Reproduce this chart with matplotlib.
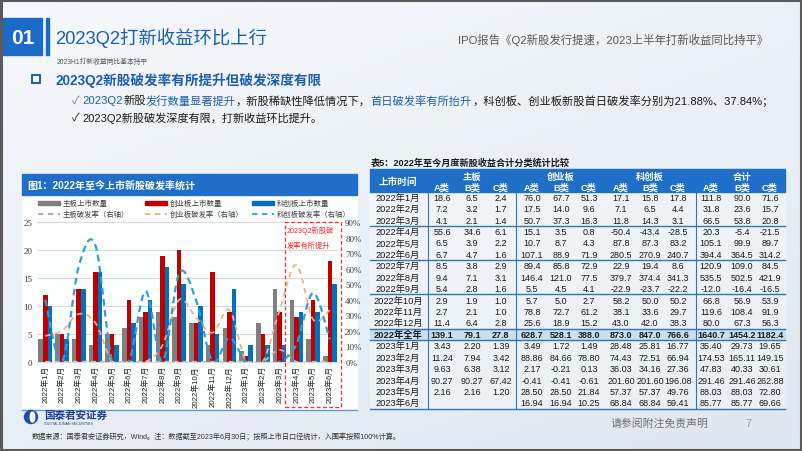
import numpy as np
import matplotlib
matplotlib.use('Agg')
import matplotlib.pyplot as plt
from matplotlib.path import Path
from matplotlib.patches import PathPatch, Rectangle, Ellipse
from matplotlib.ticker import PercentFormatter
from matplotlib.transforms import blended_transform_factory

plt.rcParams['font.family'] = ['Liberation Sans', 'Noto Sans CJK SC', 'DejaVu Sans']
plt.rcParams['axes.unicode_minus'] = False

# ---------------- chart data ----------------
months = ['2022年1月', '2022年2月', '2022年3月', '2022年4月', '2022年5月', '2022年6月',
          '2022年7月', '2022年8月', '2022年9月', '2022年10月', '2022年11月', '2022年12月',
          '2023年1月', '2023年2月', '2023年3月', '2023年4月', '2023年5月', '2023年6月']
main_cnt = [4, 5, 4, 3, 5, 6, 8, 9, 8, 7, 3, 6, 2, 7, 13, 11, 4, 1]
gem_cnt = [12, 5, 13, 16, 5, 11, 9, 19, 20, 7, 16, 9, 1, 5, 9, 8, 11, 18]
star_cnt = [10, 4, 13, 16, 3, 7, 11, 17, 14, 10, 5, 13, 3, 3, 3, 9, 9, 14]
main_rate = [0, 0, 0, 0, 0, 0, 0, 0, 0, 0, 0, 0, 0, 0, 0.0769, 0, 0, 0]
gem_rate = [0.1667, 0.20, 0.3077, 0.25, 0, 0, 0, 0.1053, 0.40, 0.2857, 0.1875, 0.3333,
            0, 0, 0.3333, 0.625, 0.2727, 0.3333]
star_rate = [0.40, 0, 0.6154, 0.75, 0, 0, 0.4545, 0, 0.5714, 0.40, 0, 0.1538,
             0, 0, 0, 0.1111, 0.4444, 0.1429]

# ---------------- table data ----------------
row_labels = ['2022年1月', '2022年2月', '2022年3月', '2022年4月', '2022年5月', '2022年6月',
              '2022年7月', '2022年8月', '2022年9月', '2022年10月', '2022年11月', '2022年12月',
              '2022年全年', '2023年1月', '2023年2月', '2023年3月', '2023年4月', '2023年5月', '2023年6月']
main_abc = [('18.6', '6.5', '2.4'), ('7.2', '3.2', '1.7'), ('4.1', '2.1', '1.4'), ('55.6', '34.6', '6.1'),
            ('6.5', '3.9', '2.2'), ('6.7', '4.7', '1.6'), ('8.5', '3.8', '2.9'), ('9.4', '7.1', '3.1'),
            ('5.4', '2.8', '1.6'), ('2.9', '1.9', '1.0'), ('2.7', '2.1', '1.0'), ('11.4', '6.4', '2.8'),
            ('139.1', '79.1', '27.8'), ('3.43', '2.20', '1.39'), ('11.24', '7.94', '3.42'),
            ('9.63', '6.38', '3.12'), ('90.27', '90.27', '67.42'), ('2.16', '2.16', '1.20'), ('', '', '')]
gem_abc = [('76.0', '67.7', '51.3'), ('17.5', '14.0', '9.6'), ('50.7', '37.3', '16.3'), ('15.1', '3.5', '0.8'),
           ('10.7', '8.7', '4.3'), ('107.1', '88.9', '71.9'), ('89.4', '85.8', '72.9'), ('146.4', '121.0', '77.5'),
           ('5.5', '4.5', '4.1'), ('5.7', '5.0', '2.7'), ('78.8', '72.7', '61.2'), ('25.6', '18.9', '15.2'),
           ('628.7', '528.1', '388.0'), ('3.49', '1.72', '1.49'), ('88.86', '84.66', '78.80'),
           ('2.17', '-0.21', '0.13'), ('-0.41', '-0.41', '-0.61'), ('28.50', '28.50', '21.84'),
           ('16.94', '16.94', '10.25')]
star_abc = [('17.1', '15.8', '17.8'), ('7.1', '6.5', '4.4'), ('11.8', '14.3', '3.1'), ('-50.4', '-43.4', '-28.5'),
            ('87.8', '87.3', '83.2'), ('280.5', '270.9', '240.7'), ('22.9', '19.4', '8.6'),
            ('379.7', '374.4', '341.3'), ('-22.9', '-23.7', '-22.2'), ('58.2', '50.0', '50.2'),
            ('38.1', '33.6', '29.7'), ('43.0', '42.0', '38.3'), ('873.0', '847.0', '766.6'),
            ('28.48', '25.81', '16.77'), ('74.43', '72.51', '66.94'), ('36.03', '34.16', '27.36'),
            ('201.60', '201.60', '196.08'), ('57.37', '57.37', '49.76'), ('68.84', '68.84', '59.41')]
total_abc = [('111.8', '90.0', '71.6'), ('31.8', '23.6', '15.7'), ('66.5', '53.8', '20.8'), ('20.3', '-5.4', '-21.5'),
             ('105.1', '99.9', '89.7'), ('394.4', '364.5', '314.2'), ('120.9', '109.0', '84.5'),
             ('535.5', '502.5', '421.9'), ('-12.0', '-16.4', '-16.5'), ('66.8', '56.9', '53.9'),
             ('119.6', '108.4', '91.9'), ('80.0', '67.3', '56.3'), ('1640.7', '1454.2', '1182.4'),
             ('35.40', '29.73', '19.65'), ('174.53', '165.11', '149.15'), ('47.83', '40.33', '30.61'),
             ('291.46', '291.46', '262.88'), ('88.03', '88.03', '72.80'), ('85.77', '85.77', '69.66')]
boards = ['主板', '创业板', '科创板', '合计']

BLUE = '#1f6fc8'
TITLE_BLUE = '#1c5fb0'

fig = plt.figure(figsize=(8.02, 4.52), dpi=100)

# full-slide background axes, coordinates in pixels (y downwards)
bg = fig.add_axes([0, 0, 1, 1])
bg.set_xlim(0, 802)
bg.set_ylim(452, 0)
bg.axis('off')

gx = np.linspace(0, 1, 200)[None, :]
gy = np.linspace(0, 1, 120)[:, None]
t = np.clip(0.55 * gy + 0.35 * gx, 0, 1)
c0 = np.array([0.965, 0.975, 0.99])
c1 = np.array([0.86, 0.90, 0.945])
img = c0[None, None, :] * (1 - t[..., None]) + c1[None, None, :] * t[..., None]
bg.imshow(img, extent=[0, 802, 452, 0], aspect='auto', zorder=0)
bg.add_patch(Rectangle((1, 1), 800, 450, fill=False, ec='#5a5a5a', lw=2.2, zorder=5))

# header
bg.add_patch(Rectangle((3, 19), 39, 37, color='#1b6ac9', zorder=2))
bg.text(22.5, 38, '01', color='white', fontsize=15, fontweight='bold', ha='center', va='center', zorder=3)
bg.add_patch(Rectangle((46, 19), 3, 37, color='#1b6ac9', zorder=2))
bg.text(55, 38, '2023Q2打新收益环比上行', color=TITLE_BLUE, fontsize=13.2, ha='left', va='center')
bg.text(768, 40, 'IPO报告《Q2新股发行提速，2023上半年打新收益同比持平》', color='#595959',
        fontsize=8.2, ha='right', va='center')
bg.text(57, 62, '2023H1打新收益同比基本持平', color='#595959', fontsize=4.9, ha='left', va='center')
bg.add_patch(Rectangle((32, 76), 8, 8, fill=False, ec=TITLE_BLUE, lw=1.4, zorder=3))
bg.text(56, 80, '2023Q2新股破发率有所提升但破发深度有限', color=TITLE_BLUE, fontsize=9.8,
        fontweight='bold', ha='left', va='center')

renderer = fig.canvas.get_renderer()


def rich(x, y, parts, size):
    for s, c in parts:
        tx = bg.text(x, y, s, color=c, fontsize=size, ha='left', va='center')
        x += tx.get_window_extent(renderer).width


rich(72, 101, [('✓ ', '#5b7fb5'), ('2023Q2', TITLE_BLUE), ('新股', '#1a1a1a'),
               ('发行数量显著提升', TITLE_BLUE), ('，新股稀缺性降低情况下，', '#1a1a1a'),
               ('首日破发率有所抬升', TITLE_BLUE),
               ('，科创板、创业板新股首日破发率分别为21.88%、37.84%；', '#1a1a1a')], 8.1)
rich(72, 118, [('✓ ', '#1a1a1a'), ('2023Q2新股破发深度有限，打新收益环比提升。', '#1a1a1a')], 8.0)

# ---------------- left panel ----------------
bg.add_patch(Rectangle((22, 175), 335, 236, color='white', alpha=0.95, zorder=1))
bg.add_patch(Rectangle((22, 175), 335, 21, color=BLUE, zorder=2))
bg.text(27, 185.5, '图1：2022年至今上市新股破发率统计', color='white', fontsize=7.2,
        fontweight='bold', ha='left', va='center', zorder=3)
bg.plot([22, 357], [411, 411], color='#5b9bd5', lw=1.0, zorder=2)

bar_colors = ['#7f7f7f', '#c00000', '#0070c0']
line_colors = ['#bfbfbf', '#f4b183', '#2e9fdb']
leg_x = [38, 145, 252]
bar_names = ['主板上市数量', '创业板上市数量', '科创板上市数量']
line_names = ['主板破发率（右轴）', '创业板破发率（右轴）', '科创板破发率（右轴）']
for i in range(3):
    bg.add_patch(Rectangle((leg_x[i], 202.2), 22, 3.8, color=bar_colors[i], zorder=3))
    bg.text(leg_x[i] + 25, 204, bar_names[i], fontsize=5.4, color='#404040', ha='left', va='center', zorder=3)
    bg.plot([leg_x[i], leg_x[i] + 22], [215, 215], color=line_colors[i] if i else '#a6a6a6',
            lw=1.3, ls=(0, (3, 2.5)), zorder=3)
    bg.text(leg_x[i] + 25, 215, line_names[i], fontsize=5.3, color='#404040', ha='left', va='center', zorder=3)

ax = fig.add_axes([36.9 / 802, 1 - 362.7 / 452, 301.3 / 802, 139.4 / 452])
ax.set_facecolor('none')
x = np.arange(len(months))
w = 0.27
ax.bar(x - w, main_cnt, w, color=bar_colors[0], zorder=2)
ax.bar(x, gem_cnt, w, color=bar_colors[1], zorder=2)
ax.bar(x + w, star_cnt, w, color=bar_colors[2], zorder=2)
ax.set_xlim(-0.5, len(months) - 0.5)
ax.set_ylim(0, 25)
ax.set_yticks(range(0, 26, 5))
ax.yaxis.grid(True, color='#d9d9d9', lw=0.7)
ax.set_axisbelow(True)
ax.set_xticks(x)
ax.set_xticklabels(months, rotation=90, fontsize=5.6, color='#262626')
ax.tick_params(axis='x', length=0, pad=2.5)
ax.tick_params(axis='y', length=0, pad=3.5, labelsize=6.5, labelcolor='#404040')
for lab in ax.get_yticklabels():
    lab.set_fontfamily('Liberation Serif')
for s in ['top', 'left', 'right']:
    ax.spines[s].set_visible(False)
ax.spines['bottom'].set_color('#d9d9d9')

ax2 = ax.twinx()
ax2.set_ylim(0, 0.9)
ax2.set_yticks(np.arange(0, 0.91, 0.1))
ax2.yaxis.set_major_formatter(PercentFormatter(1.0, decimals=0))
ax2.tick_params(axis='y', length=0, pad=5, labelsize=6.5, labelcolor='#404040')
for lab in ax2.get_yticklabels():
    lab.set_fontfamily('Liberation Serif')
for s in ax2.spines.values():
    s.set_visible(False)


def smooth_path(xs, ys):
    pts = np.column_stack([xs, ys]).astype(float)
    n = len(pts)
    verts = [pts[0]]
    codes = [Path.MOVETO]
    for i in range(n - 1):
        p0 = pts[i - 1] if i > 0 else pts[i]
        p1, p2 = pts[i], pts[i + 1]
        p3 = pts[i + 2] if i + 2 < n else pts[i + 1]
        verts += [p1 + (p2 - p0) / 6, p2 - (p3 - p1) / 6, p2]
        codes += [Path.CURVE4] * 3
    return Path(verts, codes)


for rate, col, lw, dash in [(main_rate, line_colors[0], 1.2, (0, (3, 2.5))),
                            (gem_rate, line_colors[1], 1.3, (0, (3, 2.5))),
                            (star_rate, line_colors[2], 1.6, (0, (3, 2)))]:
    ax2.add_patch(PathPatch(smooth_path(x, rate), fill=False, ec=col, lw=lw, ls=dash, zorder=3))

trans = blended_transform_factory(ax.transData, ax.transAxes)
ax2.add_patch(Rectangle((14.32, -0.325), 3.35, 1.33, transform=trans, fill=False,
                        ec='#ff2a2a', lw=0.9, ls=(0, (3, 2)), clip_on=False, zorder=4))
ax2.text(14.44, 0.945, '2023Q2新股破', transform=trans, color='#ff2a2a', fontsize=5.2,
         ha='left', va='center')
ax2.text(14.44, 0.835, '发率有所提升', transform=trans, color='#ff2a2a', fontsize=5.2,
         ha='left', va='center')

# ---------------- right table ----------------
bg.text(371, 163, '表5：2022年至今月度新股收益合计分类统计比较', fontsize=6.6, fontweight='bold',
        color='#1a1a1a', ha='left', va='center')
tx0, tx1 = 370, 785
top, hdr_bot, pitch = 170, 192.6, 11.42
col_x = [398, 442, 472, 501, 532, 561, 589, 621, 650, 678, 711, 742, 770]
bg.add_patch(Rectangle((tx0, top), tx1 - tx0, hdr_bot - top, color=BLUE, zorder=2))
bg.add_patch(Rectangle((tx0, hdr_bot), tx1 - tx0, pitch * len(row_labels), color='white',
                       alpha=0.35, zorder=1))
bg.text(col_x[0], 182, '上市时间', color='white', fontsize=6.9, fontweight='bold',
        ha='center', va='center', zorder=3)
for b, name in enumerate(boards):
    bg.text(col_x[2 + 3 * b], 177.5, name, color='white', fontsize=6.7, fontweight='bold',
            ha='center', va='center', zorder=3)
    for k, sub in enumerate(['A类', 'B类', 'C类']):
        bg.text(col_x[1 + 3 * b + k], 188, sub, color='white', fontsize=6.7, fontweight='bold',
                ha='center', va='center', zorder=3)

hl = row_labels.index('2022年全年')
bg.add_patch(Rectangle((tx0, hdr_bot + hl * pitch), tx1 - tx0, pitch, color='#c6e0f2', zorder=2))
for i, lab in enumerate(row_labels):
    yc = hdr_bot + (i + 0.5) * pitch
    fw = 'bold' if i == hl else 'normal'
    vals = list(main_abc[i]) + list(gem_abc[i]) + list(star_abc[i]) + list(total_abc[i])
    bg.text(col_x[0], yc, lab, fontsize=6.7, color='#1a1a1a', fontweight=fw,
            ha='center', va='center', zorder=3)
    for j, v in enumerate(vals):
        bg.text(col_x[j + 1], yc, v, fontsize=6.5, color='#1a1a1a', fontweight=fw,
                ha='center', va='center', zorder=3)

for r in [3, 6, 9, 12, 13, len(row_labels)]:
    yl = hdr_bot + r * pitch
    bg.plot([tx0, tx1], [yl, yl], color='#2e75b6', lw=1.0, zorder=4)
for xv in [428, 516, 696]:
    bg.plot([xv, xv], [hdr_bot, hdr_bot + pitch * len(row_labels)], color='#2e75b6', lw=0.8, zorder=4)

# ---------------- footer ----------------
bg.add_patch(Ellipse((31, 418), 13, 13, color='#1f4e9c', zorder=3))
bg.add_patch(Ellipse((32.5, 418), 4.5, 10, color='white', zorder=4))
bg.text(44, 415.5, '国泰君安证券', fontsize=7.6, fontweight='bold', color='#1f3f8f',
        ha='left', va='center')
bg.text(44, 424.5, 'GUOTAI JUNAN SECURITIES', fontsize=2.6, color='#1f3f8f', ha='left', va='center')
bg.text(32, 437, '数据来源：国泰君安证券研究，Wind。注：数据截至2023年6月30日；按照上市日口径统计，入围率按照100%计算。',
        fontsize=5.15, color='#333333', ha='left', va='center')
bg.text(611, 423, '请参阅附注免责声明', fontsize=7.8, color='#6f6f6f', ha='left', va='center')
bg.text(748, 424, '7', fontsize=7.8, color='#9a9a9a', ha='center', va='center')

fig.savefig('out.png', dpi=100)
